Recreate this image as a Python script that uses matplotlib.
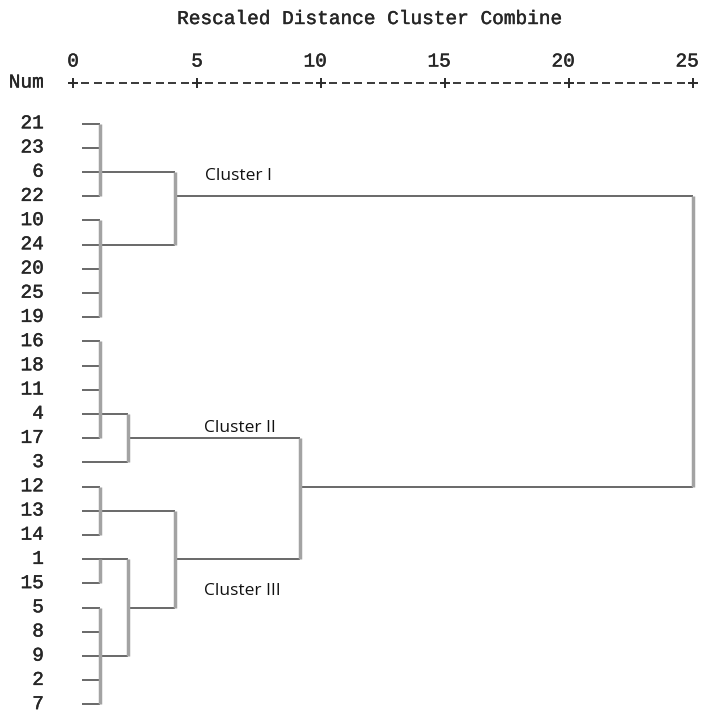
import matplotlib
matplotlib.use("Agg")
import matplotlib.pyplot as plt
import matplotlib.patheffects as pe

# ---------------- data ----------------
leaf_labels = ["21", "23", "6", "22", "10", "24", "20", "25", "19",
               "16", "18", "11", "4", "17", "3",
               "12", "13", "14", "1", "15", "5", "8", "9", "2", "7"]
leaf_start = 0.36          # rescaled distance where leaf stubs begin

# merges: children node ids (leaves are 0..24, merges are 25..), height, row that carries the link
merge_children = [
    [0, 1, 2, 3],            # 25
    [4, 5, 6, 7, 8],         # 26
    [9, 10, 11, 12, 13],     # 27
    [15, 16, 17],            # 28
    [18, 19],                # 29
    [20, 21, 22, 23, 24],    # 30
    [27, 14],                # 31
    [29, 30],                # 32
    [28, 32],                # 33
    [25, 26],                # 34
    [31, 33],                # 35
    [34, 35],                # 36
]
merge_height = [1.1, 1.1, 1.1, 1.1, 1.1, 1.1, 2.2, 2.2, 4.1, 4.1, 9.15, 25.0]
merge_row = [2, 5, 12, 16, 18, 22, 13, 20, 18, 3, 15, None]

scale_ticks = [0, 5, 10, 15, 20, 25]
cluster_names = ["Cluster I", "Cluster II", "Cluster III"]
title = "Rescaled Distance Cluster Combine"

# ---------------- layout (pixel mapping) ----------------
W, H = 704, 713
X0, SX = 73.0, 24.8     # pixel of distance 0, pixels per unit
Y0, SY = 123.5, 24.2    # pixel of first row, pixels per row


def px(x):
    return (x - X0) / SX


def py(y):
    return (y - Y0) / SY


fig = plt.figure(figsize=(W / 100, H / 100), dpi=100)
ax = fig.add_axes([0, 0, 1, 1])
ax.set_xlim(px(0), px(W))
ax.set_ylim(py(H), py(0))
ax.axis("off")

mono = "Liberation Mono"
mono_size = 14.0
txt_col = "#262626"
thick = [pe.withStroke(linewidth=0.3, foreground=txt_col)]

# title and scale
ax.text(px(371), py(24), title, family=mono, fontsize=mono_size, color=txt_col,
        ha="center", va="baseline", path_effects=thick)
for t in scale_ticks:
    ax.text(t + 6 / SX, py(66.5), str(t), family=mono, fontsize=mono_size,
            color=txt_col, ha="right", va="baseline", path_effects=thick)
ax.text(px(44), py(87.5), "Num", family=mono, fontsize=mono_size, color=txt_col,
        ha="right", va="baseline", path_effects=thick)

scale_y = py(82.5)
for a, b in zip(scale_ticks[:-1], scale_ticks[1:]):
    step = (b - a) / 10
    for j in range(1, 10):
        c = a + j * step
        ax.plot([c - step * 0.33, c + step * 0.33], [scale_y, scale_y],
                color="#2a2a2a", lw=1.3, solid_capstyle="butt")
ax.plot(scale_ticks, [scale_y] * len(scale_ticks), ls="none", marker="+",
        ms=7.5, mew=1.4, color="#2a2a2a")

# leaf labels
for i, lab in enumerate(leaf_labels):
    ax.text(px(44), i + 4.8 / SY, lab, family=mono, fontsize=mono_size,
            color=txt_col, ha="right", va="baseline", path_effects=thick)

# dendrogram
n = len(leaf_labels)
node_row = {i: i for i in range(n)}
node_h = {i: leaf_start for i in range(n)}
for k, (ch, h, r) in enumerate(zip(merge_children, merge_height, merge_row)):
    nid = n + k
    rows = [node_row[c] for c in ch]
    for c in ch:
        ax.plot([node_h[c], h], [node_row[c], node_row[c]], color="#474747",
                lw=1.15, solid_capstyle="butt", zorder=2)
    ax.plot([h, h], [min(rows), max(rows)], color="#a3a3a3", lw=2.5,
            solid_capstyle="butt", zorder=3)
    node_row[nid] = r
    node_h[nid] = h

# cluster annotations
sans = "Open Sans"
for name, (x, y) in zip(cluster_names, [(205, 179.5), (204, 431.5), (204, 595)]):
    ax.text(px(x), py(y), name, family=sans, fontsize=12.5, color="#111111",
            ha="left", va="baseline")

fig.savefig("out.png", dpi=100)
